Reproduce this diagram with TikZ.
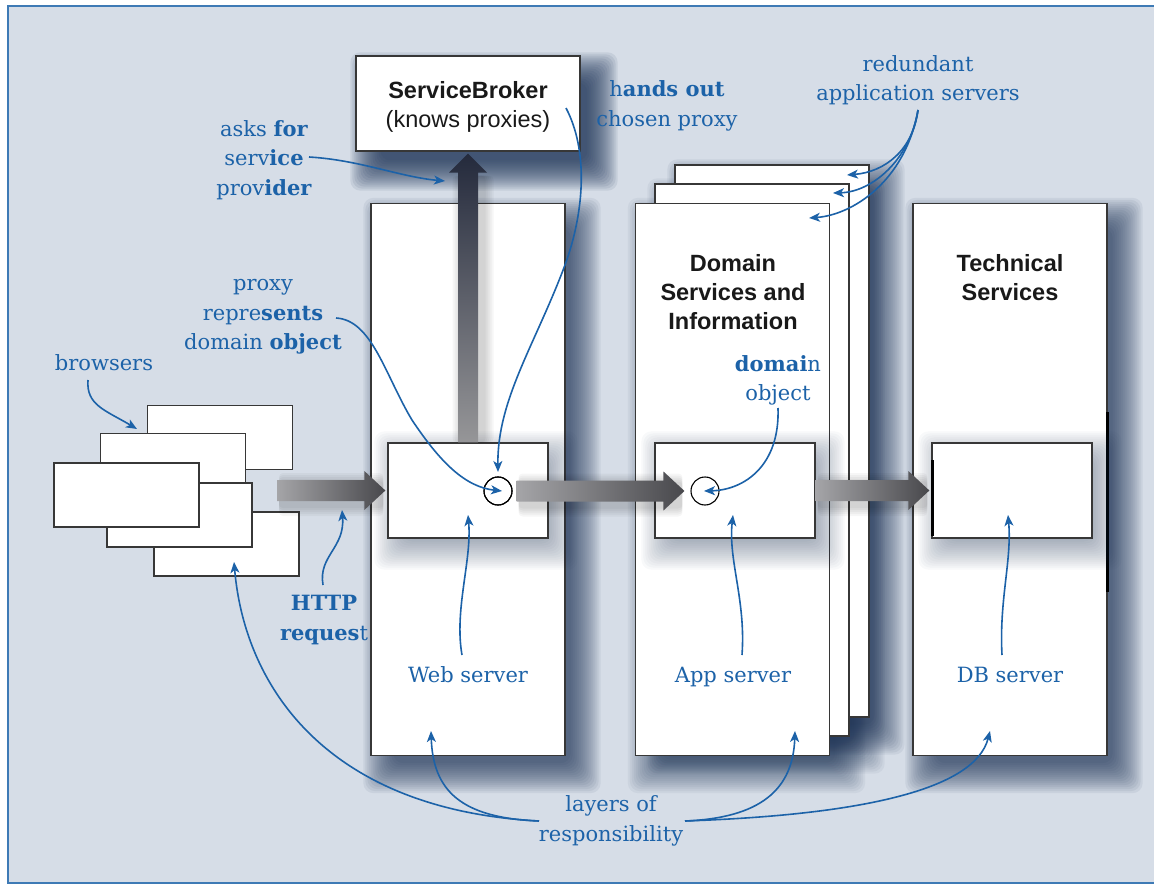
\documentclass[tikz,border=0pt]{standalone}
\usepackage{fontspec}
\newfontfamily\hsans{Liberation Sans}
\newfontfamily\bserif{DejaVu Serif}
\usetikzlibrary{arrows.meta,calc}
\definecolor{bg}{RGB}{214,221,231}
\definecolor{blu}{RGB}{28,98,168}
\definecolor{navy}{RGB}{28,50,85}
\definecolor{edge}{RGB}{55,55,55}
\definecolor{ga}{RGB}{165,165,168}
\definecolor{gb}{RGB}{72,72,76}
\newcommand\blurshadow[5]{%
  \foreach \e in {-9,-7,...,21}{%
    \fill[#5,opacity=#4,rounded corners=10pt]
      ($(#1.north west)+({#2-(\e)},{#3-(\e)})$) rectangle ($(#1.south east)+({#2+\e},{#3+\e})$);}}
\newcommand\fatH[2]{%
  \foreach \w in {3,7,...,19}{%
    \fill[black,opacity=0.035,rounded corners=4pt] ($(#1)+(2,{-8-\w/2})$) rectangle ($(#2)+(-2,{16+\w/2})$);}
  \shade[left color=ga,right color=gb] ($(#1)+(0,-10.5)$) -- ($(#2)+(-21,-10.5)$) -- ($(#2)+(-21,-19.5)$) -- (#2)
    -- ($(#2)+(-21,19.5)$) -- ($(#2)+(-21,10.5)$) -- ($(#1)+(0,10.5)$) -- cycle;}
\begin{document}
\begin{tikzpicture}[x=1pt,y=-1pt,
  col/.style={draw=edge,line width=1.3pt,fill=white,inner sep=0,minimum width=194,minimum height=552},
  ibox/.style={draw=edge,line width=1.3pt,fill=white,inner sep=0,minimum width=160,minimum height=95},
  bbox/.style={draw=edge,line width=1.3pt,fill=white,inner sep=0,minimum width=145,minimum height=64},
  circ/.style={circle,draw=black,line width=1.1pt,inner sep=0,minimum size=28},
  lbl/.style={text=blu,font=\bserif\fontsize{21}{29.5}\selectfont,align=center,inner sep=0},
  hd/.style={text=black!90,font=\hsans\bfseries\fontsize{23.5}{29}\selectfont,align=center,inner sep=0},
  conn/.style={draw=blu,line width=1.6pt,-{Stealth[length=11pt,width=9pt,inset=3pt]}}]
\useasboundingbox (0,0) rectangle (1154,885);
\fill[white] (0,0) rectangle (1154,885);
\draw[fill=bg,draw=blu!85,line width=2] (8,6) rectangle (1170,883);

% main boxes (positions)
\path (772,441) node[col] (d3) {}
      (752,460) node[col] (d2) {}
      (732.5,479.5) node[col] (dom) {}
      (468,479.5) node[col] (web) {}
      (1010,479.5) node[col] (tech) {};
% shadows
\blurshadow{web}{14}{16}{0.065}{navy}
\blurshadow{d3}{14}{16}{0.065}{navy}
\blurshadow{d2}{14}{16}{0.05}{navy}
\blurshadow{dom}{14}{16}{0.05}{navy}
\blurshadow{tech}{14}{16}{0.065}{navy}
% columns
\node[col] at (d3) {};
\node[col] at (d2) {};
\node[col] at (dom) {};
\node[col] at (web) {};
\node[col] at (tech) {};
\draw[black,line width=3pt] (1107,412) -- (1107,592);

% service broker
\node[draw=edge,line width=1.3pt,fill=white,inner sep=0,minimum width=224,minimum height=95] (broker) at (468,103.5) {};
\blurshadow{broker}{16}{18}{0.085}{navy}
\node[draw=edge,line width=1.3pt,fill=white,inner sep=0,minimum width=224,minimum height=95] at (broker) {};
\node[hd] (brokerlbl) at (468,106.5) {ServiceBroker\\\mdseries(knows proxies)};

% inner boxes
\path (468,490.5) node[ibox] (webbox) {}
      (735,490.5) node[ibox] (appbox) {}
      (1012,490.5) node[ibox] (dbbox) {};
\blurshadow{webbox}{8}{10}{0.028}{navy}
\blurshadow{appbox}{8}{10}{0.028}{navy}
\blurshadow{dbbox}{8}{10}{0.028}{navy}
\node[ibox] at (webbox) {};
\node[ibox] at (appbox) {};
\node[ibox] at (dbbox) {};
\draw[black,line width=3pt] (932,460) -- (932,536);

% browsers
\node[bbox] (r1) at (220,437.5) {};
\node[bbox] (r2) at (173,465.5) {};
\node[bbox] (r5) at (226.5,544) {};
\node[bbox] (r4) at (179.5,515) {};
\node[bbox] (r3) at (126.5,495) {};

% circles
\node[circ] (wc) at (498,491) {};
\node[circ] (ac) at (705,491) {};

% fat arrows
\coordinate (fa1) at (277,490.5);
\coordinate (fa1e) at ($(webbox.west)+(-2,0)$);
\fatH{fa1}{fa1e}
\coordinate (fa2) at ($(wc.east)+(4,0)$);
\coordinate (fa2e) at ($(ac.west)+(-6,0)$);
\fatH{fa2}{fa2e}
\coordinate (fa3) at (appbox.east);
\coordinate (fa3e) at ($(dbbox.west)+(-2,0)$);
\fatH{fa3}{fa3e}
\coordinate (brk) at ($(broker.south)+(0,2)$);
\foreach \w in {3,7,...,19}{%
  \fill[black,opacity=0.035,rounded corners=4pt] ($(webbox.north)+({-6-\w/2},0)$) rectangle ($(brk)+({16+\w/2},22)$);}
\shade[top color={rgb,255:red,36;green,42;blue,60},bottom color={rgb,255:red,150;green,150;blue,152}]
  ($(webbox.north)+(-10,0)$) -- ($(brk)+(-10,19)$) -- ($(brk)+(-19,19)$) -- (brk)
  -- ($(brk)+(19,19)$) -- ($(brk)+(10,19)$) -- ($(webbox.north)+(10,0)$) -- cycle;
\node[circ] at (wc) {};

% titles
\node[hd] (domlbl) at (733,292) {Domain\\Services and\\Information};
\node[hd] (techlbl) at (1010,277.5) {Technical\\Services};

% blue labels
\node[lbl] (redund) at (918,80) {redundant\\application servers};
\node[lbl] (hands) at (667,106) {h\textbf{ands out}\\chosen proxy};
\node[lbl] (asks) at (264,160) {asks \textbf{for}\\serv\textbf{ice}\\prov\textbf{ider}};
\node[lbl] (proxy) at (263,317) {proxy\\repre\textbf{sents}\\domain \textbf{object}};
\node[lbl] (brows) at (104,363) {browsers};
\node[lbl] (http) at (324,620) {\textbf{HTTP}\\\textbf{reques}t};
\node[lbl] (webl) at (468,675) {Web server};
\node[lbl] (appl) at (733,677) {App server};
\node[lbl] (dbl) at (1010,675) {DB server};
\node[lbl] (layers) at (611,821) {layers of\\responsibility};
\node[lbl] (domobj) at (778,380.5) {\textbf{domai}n\\object};

% connector endpoints
\coordinate (c1s) at (309,157);   \coordinate (c1e) at (445,181);
\coordinate (c2s) at (566,108);   \coordinate (c2e) at (498,472);
\coordinate (c3s) at (336,318);   \coordinate (c3e) at (502,491);
\coordinate (c4s) at (778,408);   \coordinate (c4e) at (704,491);
\coordinate (c5s) at (88,380);    \coordinate (c5e) at (137,429);
\coordinate (c6s) at (323,585);   \coordinate (c6e) at (342,510);
\coordinate (c7s) at (462,655);   \coordinate (c7e) at (468,515);
\coordinate (c8s) at (742,655);   \coordinate (c8e) at (733,515);
\coordinate (c9s) at (1002,655);  \coordinate (c9e) at (1008,515);
\coordinate (lyL) at (539,821);   \coordinate (lyR) at (685,821);
\coordinate (lw) at (431,731);    \coordinate (lb) at (234,562);
\coordinate (la) at (795,731);    \coordinate (ld) at (990,731);
\coordinate (rs) at (918,110);
\coordinate (r1e) at (847,175);   \coordinate (r2e) at (833,193);  \coordinate (r3e) at (809,218);

\draw[conn] (c1s) .. controls (360,160) and (400,177) .. (c1e);
\draw[conn] (c2s) .. controls (588,150) and (585,210) .. (565,265) .. controls (535,345) and (497,400) .. (c2e);
\draw[conn] (c3s) .. controls (372,320) and (385,375) .. (412,420) .. controls (440,462) and (465,487) .. (c3e);
\draw[conn] (c4s) .. controls (780,465) and (745,490) .. (c4e);
\draw[conn] (c5s) .. controls (86,405) and (105,410) .. (c5e);
\draw[conn] (c6s) .. controls (318,556) and (345,548) .. (c6e);
\draw[conn] (c7s) .. controls (454,610) and (472,560) .. (c7e);
\draw[conn] (c8s) .. controls (746,600) and (728,560) .. (c8e);
\draw[conn] (c9s) .. controls (999,600) and (1012,560) .. (c9e);
\draw[conn] (lyL) .. controls (460,818) and (433,790) .. (lw);
\draw[conn] (lyL) .. controls (330,810) and (245,690) .. (lb);
\draw[conn] (lyR) .. controls (760,818) and (793,790) .. (la);
\draw[conn] (lyR) .. controls (860,815) and (975,790) .. (ld);
\draw[conn] (rs) .. controls (913,150) and (885,172) .. (r1e);
\draw[conn] (rs) .. controls (910,160) and (872,192) .. (r2e);
\draw[conn] (rs) .. controls (905,182) and (852,215) .. (r3e);
\end{tikzpicture}
\end{document}
